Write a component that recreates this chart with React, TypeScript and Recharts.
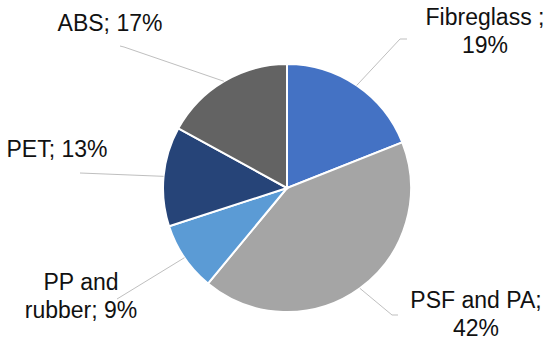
import React from "react";
import { PieChart, Pie, Cell } from "recharts";

const categories = ["Fibreglass", "PSF and PA", "PP and rubber", "PET", "ABS"];
const shares = [19, 42, 9, 13, 17];
const labelTexts = [
  ["Fibreglass ;", "19%"],
  ["PSF and PA;", "42%"],
  ["PP and", "rubber; 9%"],
  ["PET; 13%"],
  ["ABS; 17%"],
];
const colors = ["#4472C4", "#A5A5A5", "#5B9BD5", "#264478", "#636363"];

const data = categories.map((name, i) => ({ name, value: shares[i] }));

// label layout offsets relative to pie centre
const LAYOUT = [
  { pts: [[113, -149], [120, -149]], tx: 198, ty: -163 },
  { pts: [[105, 127], [111, 127]], tx: 189, ty: 120 },
  { pts: [[-170, 111]], tx: -206, ty: 102 },
  { pts: [[-207, -15]], tx: -230, ty: -31 },
  { pts: [[-163, -141], [-167, -142]], tx: -177, ty: -157 },
];

const RAD = Math.PI / 180;

const renderLabel = (props: any) => {
  const { cx, cy, midAngle, outerRadius, index } = props;
  const lay = LAYOUT[index];
  const sx = cx + outerRadius * Math.cos(-midAngle * RAD);
  const sy = cy + outerRadius * Math.sin(-midAngle * RAD);
  const points = [[sx, sy], ...lay.pts.map(([dx, dy]) => [cx + dx, cy + dy])]
    .map((p) => p.join(","))
    .join(" ");
  const lines = labelTexts[index];
  return (
    <g key={`lbl-${index}`}>
      <polyline points={points} fill="none" stroke="#BFBFBF" strokeWidth={1} />
      <text
        x={cx + lay.tx}
        y={cy + lay.ty}
        textAnchor="middle"
        fill="#111"
        fontSize={23}
        fontFamily="'Liberation Sans', Arial, sans-serif"
      >
        {lines.map((l, i) => (
          <tspan key={i} x={cx + lay.tx} dy={i === 0 ? 0 : 28}>
            {l}
          </tspan>
        ))}
      </text>
    </g>
  );
};

export default function App() {
  return (
    <div style={{ position: "absolute", left: 0, top: 0, background: "#fff" }}>
      <PieChart width={550} height={341} margin={{ top: 0, right: 0, bottom: 0, left: 0 }}>
        <Pie
          data={data}
          dataKey="value"
          nameKey="name"
          cx={287}
          cy={188}
          outerRadius={124}
          startAngle={90}
          endAngle={-270}
          stroke="#FFFFFF"
          strokeWidth={2}
          label={renderLabel}
          labelLine={false}
          isAnimationActive={false}
        >
          {data.map((d, i) => (
            <Cell key={d.name} fill={colors[i]} />
          ))}
        </Pie>
      </PieChart>
    </div>
  );
}
